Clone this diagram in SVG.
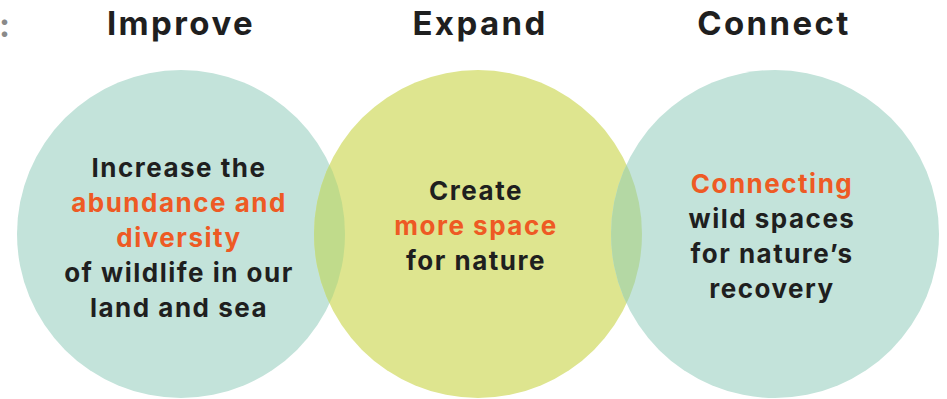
<svg xmlns="http://www.w3.org/2000/svg" width="947" height="399" viewBox="0 0 947 399">
  <style>
    .head { font-family: Inter, "Liberation Sans", sans-serif; font-weight: 700; font-size: 33px; letter-spacing: 2.4px; fill: #1f1f1f; text-anchor: middle; }
    .body { font-family: Inter, "Liberation Sans", sans-serif; font-weight: 700; font-size: 26px; letter-spacing: 1.5px; fill: #1f1f1f; text-anchor: middle; }
    .hl { fill: #ee5a24; }
    .teal { fill: #c3e3da; }
    .lime { fill: #dee58f; }
  </style>
  <defs>
    <clipPath id="clipLeft"><circle cx="181" cy="234" r="164"/></clipPath>
    <clipPath id="clipRight"><circle cx="775" cy="234" r="164"/></clipPath>
  </defs>

  <!-- trailing colon of the preceding heading -->
  <text x="-1" y="37" style="font-family:Inter,'Liberation Sans',sans-serif;font-weight:700;font-size:33px;fill:#8a8a8a">:</text>

  <!-- headings -->
  <g id="headings">
    <text class="head" x="181" y="35">Improve</text>
    <text class="head" x="480" y="35">Expand</text>
    <text class="head" x="774" y="35">Connect</text>
  </g>

  <!-- circles -->
  <g id="improve">
    <circle class="teal" cx="181" cy="234" r="164"/>
  </g>
  <g id="expand">
    <circle class="lime" cx="478" cy="234" r="164"/>
  </g>
  <g id="connect">
    <circle class="teal" cx="775" cy="234" r="164"/>
  </g>

  <!-- overlap lenses -->
  <g id="overlaps">
    <circle cx="478" cy="234" r="164" fill="#c0db8b" clip-path="url(#clipLeft)"/>
    <circle cx="478" cy="234" r="164" fill="#b4d8a4" clip-path="url(#clipRight)"/>
  </g>

  <!-- circle texts -->
  <g id="improve-text">
    <text class="body" x="179" y="177">Increase the</text>
    <text class="body hl" x="179" y="212">abundance and</text>
    <text class="body hl" x="179" y="247">diversity</text>
    <text class="body" x="179" y="282">of wildlife in our</text>
    <text class="body" x="179" y="317">land and sea</text>
  </g>
  <g id="expand-text">
    <text class="body" x="476" y="200">Create</text>
    <text class="body hl" x="476" y="235">more space</text>
    <text class="body" x="476" y="270">for nature</text>
  </g>
  <g id="connect-text">
    <text class="body hl" x="772" y="193">Connecting</text>
    <text class="body" x="772" y="228">wild spaces</text>
    <text class="body" x="772" y="263">for nature’s</text>
    <text class="body" x="772" y="298">recovery</text>
  </g>
</svg>
